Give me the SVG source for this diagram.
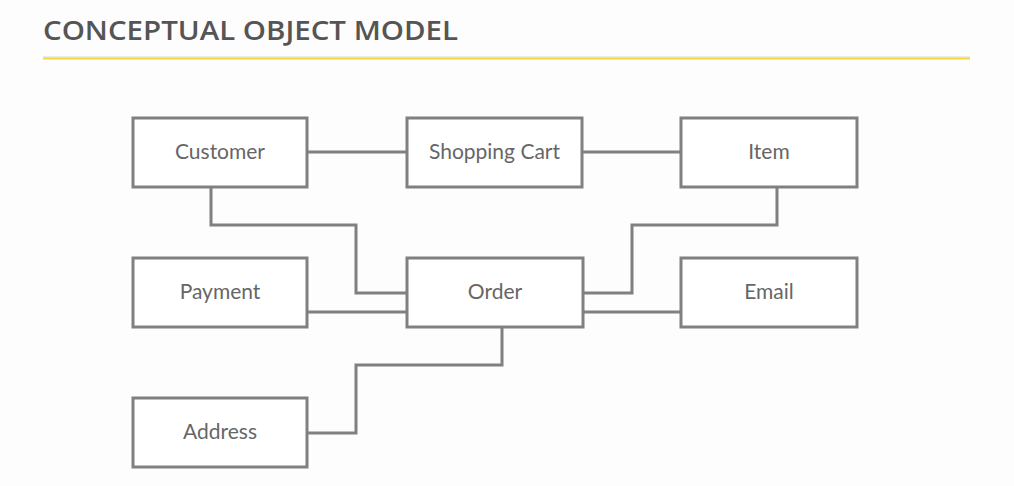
<svg xmlns="http://www.w3.org/2000/svg" width="1014" height="486" viewBox="0 0 1014 486">
<style>
.box{fill:#fff;stroke:#808080;stroke-width:3}
.lbl{font-family:Lato,"Open Sans",sans-serif;font-size:21px;fill:#666;text-anchor:middle;dominant-baseline:central}
.con{fill:none;stroke:#808080;stroke-width:3}
.title{font-family:"Open Sans",Lato,sans-serif;font-size:27px;font-weight:600;fill:#555}
</style>
<rect width="1014" height="486" fill="#fdfdfe"/>
<text class="title" x="43" y="40" textLength="415" lengthAdjust="spacingAndGlyphs">CONCEPTUAL OBJECT MODEL</text>
<line x1="43" y1="57" x2="970" y2="57" stroke="#d8d8d8" stroke-width="1"/>
<line x1="43" y1="58.5" x2="970" y2="58.5" stroke="#f5d93a" stroke-width="2"/>
<g id="connectors">
<path class="con" d="M307 152H407"/>
<path class="con" d="M582 152H681"/>
<path class="con" d="M211 187V225H356V293H407"/>
<path class="con" d="M777 187V225H632V293H583"/>
<path class="con" d="M307 312H407"/>
<path class="con" d="M583 312H681"/>
<path class="con" d="M502 327V365H356V433H307"/>
</g>
<g id="customer"><rect class="box" x="133" y="118" width="174" height="69"/><text class="lbl" x="220" y="150">Customer</text></g>
<g id="shopping-cart"><rect class="box" x="407" y="118" width="175" height="69"/><text class="lbl" x="494.5" y="150">Shopping Cart</text></g>
<g id="item"><rect class="box" x="681" y="118" width="176" height="69"/><text class="lbl" x="769" y="150">Item</text></g>
<g id="payment"><rect class="box" x="133" y="258" width="174" height="69"/><text class="lbl" x="220" y="290">Payment</text></g>
<g id="order"><rect class="box" x="407" y="258" width="176" height="69"/><text class="lbl" x="495" y="290">Order</text></g>
<g id="email"><rect class="box" x="681" y="258" width="176" height="69"/><text class="lbl" x="769" y="290">Email</text></g>
<g id="address"><rect class="box" x="133" y="398" width="174" height="69"/><text class="lbl" x="220" y="430">Address</text></g>
</svg>
